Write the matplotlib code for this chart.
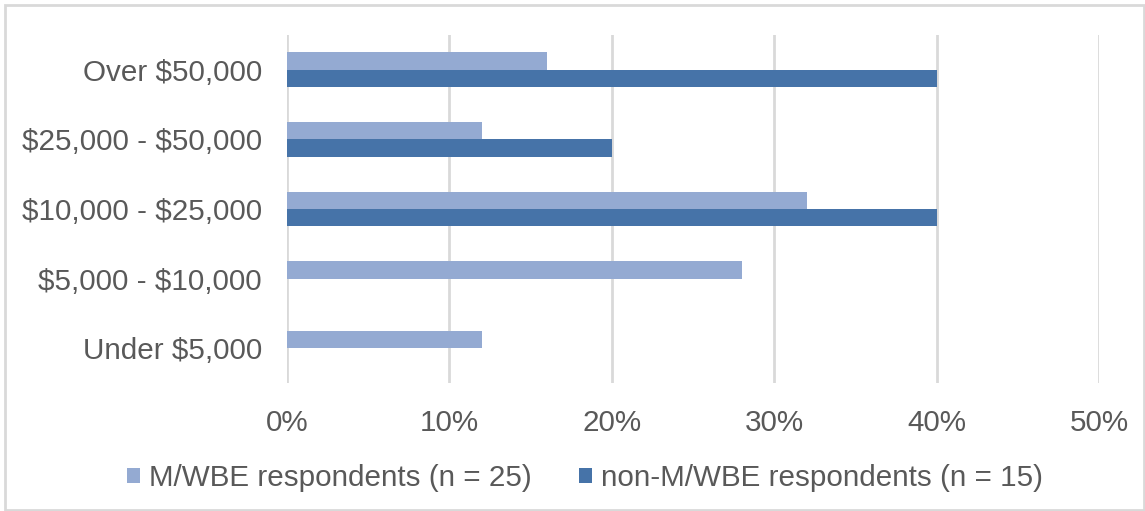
import matplotlib
matplotlib.use("Agg")
import matplotlib.pyplot as plt
from matplotlib.patches import Rectangle
import numpy as np

categories = ["Under $5,000", "$5,000 - $10,000", "$10,000 - $25,000", "$25,000 - $50,000", "Over $50,000"]
mwbe = [12, 28, 32, 12, 16]
non_mwbe = [0, 0, 40, 20, 40]
series_labels = ["M/WBE respondents (n = 25)", "non-M/WBE respondents (n = 15)"]
xticks = [0, 10, 20, 30, 40, 50]
xtick_labels = ["0%", "10%", "20%", "30%", "40%", "50%"]

plt.rcParams['font.family'] = ['Liberation Sans', 'DejaVu Sans']
plt.rcParams['text.parse_math'] = False
text_color = "#595959"
light = "#94AAD2"
dark = "#4673A8"
grid_color = "#D9D9D9"
fs = 21.3

fig = plt.figure(figsize=(11.45, 5.11), dpi=100)
ax = fig.add_axes([287/1145, 1-383/511, (1099-287)/1145, (383-35)/511])

y = np.arange(len(categories))
h = 0.25
ax.barh(y + h/2, mwbe, height=h, color=light, label=series_labels[0], zorder=3)
ax.barh(y - h/2, non_mwbe, height=h, color=dark, label=series_labels[1], zorder=3)

ax.set_ylim(-0.5, len(categories) - 0.5)
ax.set_xlim(0, 50)
ax.set_yticks(y)
ax.set_yticklabels(categories, fontsize=fs, color=text_color)
ax.set_xticks(xticks)
ax.set_xticklabels(xtick_labels, fontsize=fs, color=text_color)
ax.tick_params(axis='both', length=0)
ax.tick_params(axis='y', pad=18)
ax.tick_params(axis='x', pad=19)
for s in ax.spines.values():
    s.set_visible(False)
ax.xaxis.grid(True, color=grid_color, linewidth=2, zorder=0)
ax.set_axisbelow(True)

leg = fig.legend(loc='center', bbox_to_anchor=(585/1145, 1-478/511), ncol=2,
                 frameon=False, fontsize=fs, handlelength=0.45, handleheight=0.45,
                 handletextpad=0.3, columnspacing=1.6)
for t in leg.get_texts():
    t.set_color(text_color)

fig.patches.append(Rectangle((5/1145, 1/511), 1139/1145, 505/511, transform=fig.transFigure,
                             fill=False, edgecolor=grid_color, linewidth=2))

fig.savefig("out.png", dpi=100)
